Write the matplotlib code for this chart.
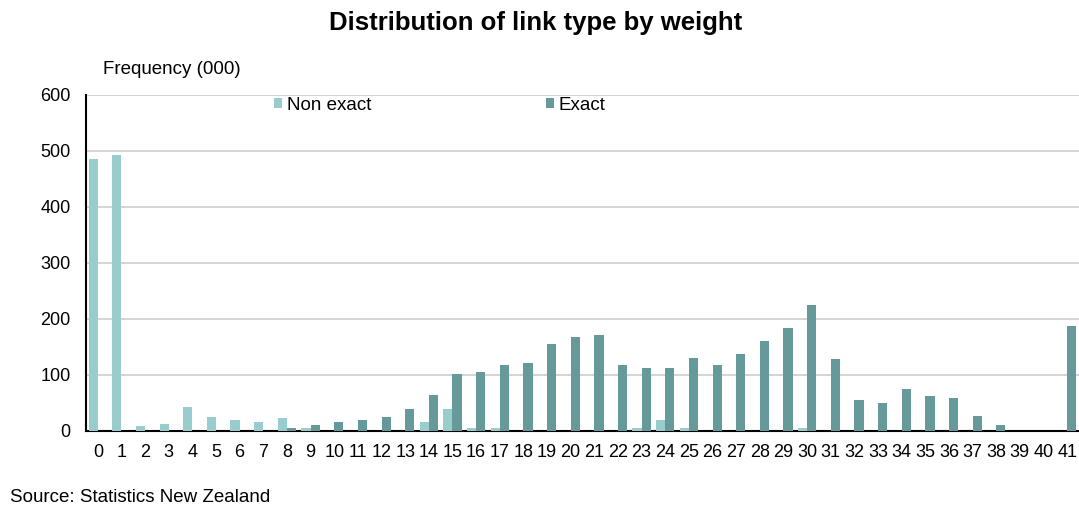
import numpy as np
import matplotlib
matplotlib.use("Agg")
import matplotlib.pyplot as plt

plt.rcParams["font.family"] = ["Liberation Sans", "DejaVu Sans"]

# weight categories 0..41
weights = list(range(42))
non_exact = [486, 493, 8, 11, 42, 25, 19, 16, 22, 4,
             0, 0, 0, 0, 15, 39, 4, 4, 0, 0,
             0, 0, 0, 4, 19, 4, 0, 0, 0, 0,
             5, 0, 0, 0, 0, 0, 0, 0, 0, 0,
             0, 0]
exact = [0, 0, 0, 0, 0, 0, 0, 0, 5, 9,
         15, 19, 25, 39, 64, 101, 104, 118, 121, 154,
         167, 170, 118, 111, 111, 130, 118, 137, 160, 183,
         225, 127, 55, 49, 75, 62, 59, 26, 9, 0,
         0, 186]
y_ticks = [0, 100, 200, 300, 400, 500, 600]

light = "#99CCCC"
dark = "#669999"

fig = plt.figure(figsize=(10.79, 5.09), dpi=100)
ax = fig.add_axes([86 / 1079, 78.5 / 509, 993 / 1079, 335.5 / 509])

x = np.arange(len(weights))
bw = 0.39
ax.bar(x - bw / 2, non_exact, bw, color=light, label="Non exact", zorder=3)
ax.bar(x + bw / 2, exact, bw, color=dark, label="Exact", zorder=3)

ax.set_xlim(-0.5, len(weights) - 0.5)
ax.set_ylim(0, 600)
ax.set_yticks(y_ticks)
ax.set_xticks(x)
ax.set_xticklabels([str(w) for w in weights])
ax.tick_params(axis="both", length=0, labelsize=13, colors="black")
ax.tick_params(axis="y", pad=11)
ax.tick_params(axis="x", pad=10)

ax.yaxis.grid(True, color="#d4d4d4", linewidth=1.4, zorder=0)
ax.set_axisbelow(True)
for s in ["top", "right"]:
    ax.spines[s].set_visible(False)
ax.spines["left"].set_linewidth(1.5)
ax.spines["bottom"].set_linewidth(1.5)

leg = ax.legend(loc="upper left", bbox_to_anchor=(0.172, 1.044), ncol=2,
                frameon=False, fontsize=13.5, handlelength=0.45, handleheight=0.45,
                handletextpad=0.25, columnspacing=9.3)

fig.text(0.496, 0.955, "Distribution of link type by weight", ha="center",
         va="center", fontsize=18.5, fontweight="bold")
fig.text(103 / 1079, 1 - 70 / 509, "Frequency (000)", ha="left", va="center",
         fontsize=13.5)
fig.text(10 / 1079, 1 - 497 / 509, "Source: Statistics New Zealand", ha="left",
         va="center", fontsize=13.5)

fig.savefig("out.png", dpi=100)
